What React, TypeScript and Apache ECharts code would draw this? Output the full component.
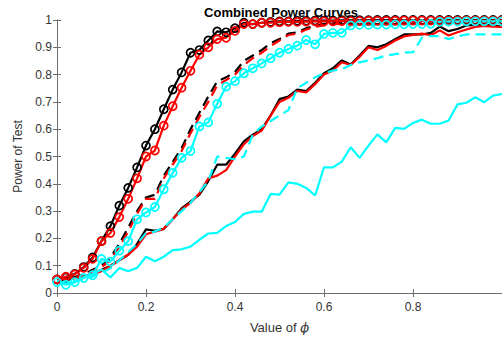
import React, { useEffect, useRef } from "react";
import * as echarts from "echarts";

const phi: number[] = [
  0, 0.02, 0.04, 0.06, 0.08, 0.1, 0.12, 0.14, 0.16, 0.18, 0.2, 0.22, 0.24, 0.26, 0.28, 0.3, 0.32, 0.34, 0.36, 0.38, 0.4,
  0.42, 0.44, 0.46, 0.48, 0.5, 0.52, 0.54, 0.56, 0.58, 0.6, 0.62, 0.64, 0.66, 0.68, 0.7, 0.72, 0.74, 0.76, 0.78, 0.8,
  0.82, 0.84, 0.86, 0.88, 0.9, 0.92, 0.94, 0.96, 0.98, 1.0,
];

const yTicks: number[] = [0, 0.1, 0.2, 0.3, 0.4, 0.5, 0.6, 0.7, 0.8, 0.9, 1];
const xTicks: number[] = [0, 0.2, 0.4, 0.6, 0.8, 1];

// black, solid with circles
const blackCircle: number[] = [
  0.05, 0.057, 0.07, 0.095, 0.13, 0.19, 0.245, 0.32, 0.385, 0.46, 0.54, 0.6, 0.673, 0.745, 0.808, 0.88, 0.89, 0.925,
  0.958, 0.955, 0.97, 0.99, 0.985, 0.99, 0.993, 0.995, 0.995, 0.997, 0.997, 0.998, 0.998, 0.998, 0.999, 0.999, 0.999,
  0.999, 1, 1, 1, 1, 1, 1, 1, 1, 1, 1, 1, 1, 1, 1, 1,
];
// red, solid with circles
const redCircle: number[] = [
  0.05, 0.06, 0.068, 0.092, 0.125, 0.19, 0.22, 0.278, 0.345, 0.42, 0.5, 0.522, 0.613, 0.684, 0.752, 0.814, 0.873, 0.9,
  0.93, 0.935, 0.96, 0.985, 0.985, 0.99, 0.99, 0.992, 0.993, 0.993, 0.994, 0.995, 0.995, 0.995, 0.996, 0.996, 0.996,
  0.997, 0.997, 0.997, 0.997, 0.998, 0.998, 0.998, 0.998, 0.998, 0.998, 0.998, 0.998, 0.998, 0.998, 0.998, 0.998,
];
// cyan, solid with circles
const cyanCircle: number[] = [
  0.04, 0.03, 0.04, 0.055, 0.065, 0.125, 0.115, 0.155, 0.19, 0.27, 0.295, 0.315, 0.38, 0.44, 0.495, 0.52, 0.61, 0.625,
  0.693, 0.756, 0.776, 0.805, 0.823, 0.841, 0.86, 0.88, 0.894, 0.906, 0.927, 0.911, 0.949, 0.953, 0.953, 0.98, 0.982,
  0.982, 0.983, 0.983, 0.984, 0.984, 0.985, 0.985, 0.986, 0.993, 0.994, 0.994, 0.995, 0.995, 0.995, 0.995, 0.995,
];
// black dashed
const blackDashed: number[] = [
  0.05, 0.05, 0.058, 0.068, 0.085, 0.1, 0.13, 0.18, 0.24, 0.3, 0.35, 0.36, 0.43, 0.48, 0.53, 0.6, 0.66, 0.72, 0.775,
  0.79, 0.81, 0.85, 0.87, 0.89, 0.915, 0.93, 0.95, 0.955, 0.97, 0.978, 0.985, 0.99, 0.99, 0.993, 0.993, 0.994, 0.994,
  0.995, 0.995, 0.995, 0.996, 0.996, 0.996, 0.996, 0.997, 0.997, 0.997, 0.997, 0.997, 0.997, 0.997,
];
// red dashed
const redDashed: number[] = [
  0.05, 0.05, 0.055, 0.065, 0.08, 0.095, 0.12, 0.17, 0.225, 0.29, 0.345, 0.345, 0.42, 0.47, 0.52, 0.585, 0.645, 0.7,
  0.76, 0.78, 0.8, 0.835, 0.86, 0.88, 0.905, 0.925, 0.945, 0.95, 0.965, 0.975, 0.98, 0.985, 0.986, 0.988, 0.989, 0.99,
  0.99, 0.99, 0.991, 0.991, 0.991, 0.992, 0.992, 0.992, 0.992, 0.992, 0.992, 0.992, 0.992, 0.992, 0.992,
];
// black solid
const blackSolid: number[] = [
  0.05, 0.05, 0.055, 0.06, 0.07, 0.085, 0.1, 0.12, 0.14, 0.18, 0.233, 0.228, 0.235, 0.27, 0.31, 0.335, 0.36, 0.41, 0.47,
  0.47, 0.51, 0.555, 0.58, 0.6, 0.65, 0.71, 0.72, 0.745, 0.74, 0.77, 0.805, 0.823, 0.852, 0.837, 0.87, 0.905, 0.9, 0.911,
  0.93, 0.947, 0.947, 0.947, 0.953, 0.976, 0.959, 0.967, 0.98, 0.982, 0.982, 0.98, 0.976,
];
// red solid
const redSolid: number[] = [
  0.05, 0.048, 0.055, 0.06, 0.068, 0.08, 0.1, 0.12, 0.14, 0.17, 0.215, 0.225, 0.235, 0.27, 0.305, 0.33, 0.365, 0.42,
  0.43, 0.45, 0.5, 0.545, 0.575, 0.595, 0.65, 0.7, 0.715, 0.74, 0.735, 0.765, 0.8, 0.815, 0.845, 0.835, 0.865, 0.9,
  0.89, 0.905, 0.925, 0.94, 0.945, 0.95, 0.944, 0.962, 0.943, 0.955, 0.965, 0.975, 0.978, 0.976, 0.975,
];
// cyan dashed
const cyanDashed: number[] = [
  0.04, 0.04, 0.045, 0.05, 0.06, 0.075, 0.09, 0.12, 0.15, 0.18, 0.22, 0.225, 0.24, 0.27, 0.3, 0.33, 0.37, 0.41, 0.5,
  0.495, 0.49, 0.5, 0.58, 0.61, 0.63, 0.65, 0.67, 0.75, 0.77, 0.79, 0.805, 0.815, 0.82, 0.835, 0.845, 0.852, 0.86, 0.87,
  0.875, 0.88, 0.882, 0.935, 0.941, 0.941, 0.93, 0.94, 0.947, 0.947, 0.947, 0.947, 0.947,
];
// cyan solid (lowest)
const cyanSolid: number[] = [
  0.045, 0.035, 0.039, 0.059, 0.069, 0.086, 0.057, 0.092, 0.08, 0.092, 0.133, 0.116, 0.133, 0.157, 0.16, 0.17, 0.195,
  0.218, 0.22, 0.245, 0.26, 0.29, 0.298, 0.298, 0.363, 0.36, 0.405, 0.4, 0.385, 0.357, 0.46, 0.46, 0.481, 0.534, 0.495,
  0.54, 0.581, 0.552, 0.605, 0.601, 0.623, 0.635, 0.62, 0.62, 0.632, 0.691, 0.697, 0.717, 0.699, 0.723, 0.729,
];

const BLACK = "#000000";
const RED = "#ff0000";
const CYAN = "#00ffff";
const FONT = "'Liberation Sans', Arial, Helvetica, sans-serif";
const AXIS = "#6e6e6e";

const pairs = (ys: number[]) => phi.map((x, i) => [x, ys[i]]);

const lineSeries = (name: string, ys: number[], color: string, kind: "circle" | "dashed" | "solid") => ({
  name,
  type: "line",
  data: pairs(ys),
  clip: false,
  showSymbol: kind === "circle",
  symbol: kind === "circle" ? "circle" : "none",
  symbolSize: 8,
  itemStyle: { color: "rgba(0,0,0,0)", borderColor: color, borderWidth: 1.7 },
  lineStyle: { color, width: 2.2, type: kind === "dashed" ? [10, 6] : "solid" },
  emphasis: { disabled: true },
});

export default function App() {
  const ref = useRef<HTMLDivElement>(null);
  useEffect(() => {
    document.body.style.margin = "0";
    if (!ref.current) return;
    const chart = echarts.init(ref.current, undefined, { renderer: "svg" });
    const axisLine = { show: true, lineStyle: { color: AXIS, width: 1 } };
    const axisTick = { show: true, inside: true, length: 4, lineStyle: { color: AXIS } };
    chart.setOption({
      animation: false,
      backgroundColor: "#ffffff",
      grid: { left: 57, right: -3, top: 20, bottom: 36, containLabel: false },
      xAxis: [
        {
          type: "value",
          min: xTicks[0],
          max: xTicks[xTicks.length - 1],
          interval: 0.2,
          axisLine,
          axisTick,
          splitLine: { show: false },
          axisLabel: { color: "#333333", fontSize: 12, fontFamily: FONT, margin: 8, showMaxLabel: false },
          name: "Value of {i|ϕ}",
          nameLocation: "middle",
          nameGap: 28,
          nameTextStyle: {
            color: "#333333",
            fontSize: 13,
            fontFamily: FONT,
            rich: { i: { fontStyle: "italic", fontFamily: "'DejaVu Serif', serif", fontSize: 13, color: "#333333" } },
          },
        },
        {
          type: "value",
          position: "top",
          min: xTicks[0],
          max: xTicks[xTicks.length - 1],
          interval: 0.2,
          axisLine,
          axisTick,
          splitLine: { show: false },
          axisLabel: { show: false },
        },
      ],
      yAxis: [
        {
          type: "value",
          min: yTicks[0],
          max: yTicks[yTicks.length - 1],
          interval: 0.1,
          axisLine,
          axisTick,
          splitLine: { show: false },
          axisLabel: { color: "#333333", fontSize: 12, fontFamily: FONT, margin: 5 },
          name: "Power of Test",
          nameLocation: "middle",
          nameGap: 29,
          nameTextStyle: { color: "#333333", fontSize: 12, fontFamily: FONT },
        },
        {
          type: "value",
          position: "right",
          min: yTicks[0],
          max: yTicks[yTicks.length - 1],
          interval: 0.1,
          axisLine,
          axisTick,
          splitLine: { show: false },
          axisLabel: { show: false },
        },
      ],
      graphic: [
        {
          type: "text",
          x: 281,
          y: 12,
          style: {
            text: "Combined Power Curves",
            fill: "#000000",
            font: `bold 13px ${FONT}`,
            textAlign: "center",
            textVerticalAlign: "middle",
          },
          z: 100,
        },
      ],
      series: [
        lineSeries("Black circles", blackCircle, BLACK, "circle"),
        lineSeries("Black dashed", blackDashed, BLACK, "dashed"),
        lineSeries("Black solid", blackSolid, BLACK, "solid"),
        lineSeries("Red circles", redCircle, RED, "circle"),
        lineSeries("Red dashed", redDashed, RED, "dashed"),
        lineSeries("Red solid", redSolid, RED, "solid"),
        lineSeries("Cyan circles", cyanCircle, CYAN, "circle"),
        lineSeries("Cyan dashed", cyanDashed, CYAN, "dashed"),
        lineSeries("Cyan solid", cyanSolid, CYAN, "solid"),
      ],
    });
    return () => chart.dispose();
  }, []);
  return (
    <div style={{ width: 502, height: 339, overflow: "hidden" }}>
      <div ref={ref} style={{ width: 502, height: 339 }} />
    </div>
  );
}
